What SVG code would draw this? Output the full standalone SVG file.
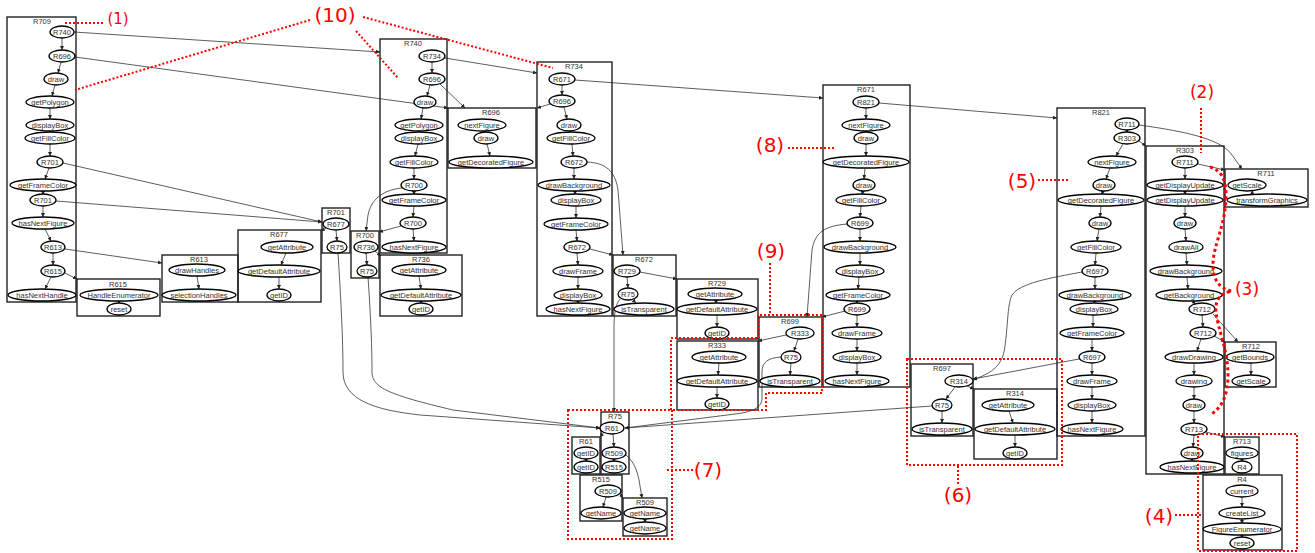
<svg xmlns="http://www.w3.org/2000/svg" width="1315" height="553" viewBox="0 0 1315 553">
<defs>
<marker id="a" viewBox="0 0 6 6" refX="6" refY="3" markerWidth="4" markerHeight="4" orient="auto" markerUnits="userSpaceOnUse"><path d="M0,0 L6,3 L0,6z" fill="#222"/></marker>
<style>
.b{fill:none;stroke:#222;stroke-width:1.4}
.n ellipse{fill:#fff;stroke:#000;stroke-width:1.3}
text{font-family:"Liberation Sans",Arial,sans-serif;font-size:7.5px;fill:#333;text-anchor:middle}
.e line,.e path{fill:none;stroke:#333;stroke-width:0.8;marker-end:url(#a)}
.r{fill:none;stroke:#f00;stroke-width:2;stroke-dasharray:2 2}
.rt{font-family:"DejaVu Sans",sans-serif;fill:#f00;font-size:20px}
</style>
</defs>
<rect width="1315" height="553" fill="#fff"/>
<g id="connectors" class="e">
<line x1="74" y1="32" x2="380" y2="52"/>
<line x1="75" y1="57" x2="448" y2="108"/>
<line x1="63" y1="163" x2="322" y2="222"/>
<line x1="56" y1="201" x2="322" y2="222"/>
<line x1="65" y1="249" x2="162" y2="263"/>
<line x1="65" y1="273" x2="77" y2="279"/>
<line x1="326" y1="228" x2="321" y2="231"/>
<path d="M402,188 C382,190 371,200 368,215 L366,231"/>
<line x1="401" y1="226" x2="379" y2="232"/>
<line x1="375" y1="251" x2="381" y2="256"/>
<path d="M338,253 C341,300 343,340 343,372 C343,400 375,410 420,415 L600,428"/>
<path d="M368,277 C371,320 372,350 372,372 C372,388 390,395 453,410 L600,428"/>
<line x1="445" y1="58" x2="537" y2="73"/>
<line x1="440" y1="84" x2="465" y2="108"/>
<line x1="550" y1="104" x2="537" y2="108"/>
<line x1="575" y1="80" x2="823" y2="98"/>
<path d="M587,162 C605,163 615,170 618,190 L623,255"/>
<line x1="590" y1="249" x2="613" y2="255"/>
<line x1="640" y1="272" x2="677" y2="279"/>
<path d="M620,299 C615,305 614,315 614,330 L614,412"/>
<line x1="786" y1="335" x2="758" y2="341"/>
<path d="M781,357 C768,358 762,362 762,372 L762,398 C762,408 752,412 735,414 L625,428"/>
<path d="M847,224 C825,226 815,232 812,250 L807,317"/>
<line x1="845" y1="311" x2="822" y2="317"/>
<line x1="879" y1="103" x2="1057" y2="118"/>
<path d="M1082,272 C1050,278 1020,283 1012,295 C1007,305 1008,330 1004,352 C1000,370 985,375 973,380"/>
<line x1="1079" y1="359" x2="973" y2="379"/>
<line x1="967" y1="386" x2="974" y2="389"/>
<line x1="932" y1="406" x2="625" y2="428"/>
<path d="M1139,125 C1190,132 1222,140 1232,155 L1242,169"/>
<line x1="1139" y1="141" x2="1146" y2="146"/>
<line x1="1198" y1="164" x2="1225" y2="170"/>
<line x1="1213" y1="314" x2="1238" y2="342"/>
<line x1="1214" y1="336" x2="1225" y2="342"/>
<line x1="1206" y1="432" x2="1225" y2="437"/>
<line x1="604" y1="432" x2="600" y2="437"/>
<path d="M626,455 C634,462 637,470 639,480 L642,498"/>
<line x1="620" y1="494" x2="623" y2="498"/>
<line x1="62" y1="38" x2="62" y2="50"/><line x1="61" y1="62" x2="58" y2="73"/><line x1="55" y1="85" x2="52" y2="96"/><line x1="50" y1="108" x2="50" y2="119"/><line x1="50" y1="130" x2="50" y2="133"/><line x1="50" y1="144" x2="50" y2="156"/><line x1="49" y1="168" x2="45" y2="179"/><line x1="43" y1="190" x2="43" y2="195"/><line x1="43" y1="206" x2="43" y2="217"/><line x1="45" y1="229" x2="51" y2="241"/><line x1="53" y1="253" x2="53" y2="265"/><line x1="51" y1="277" x2="45" y2="289"/>
<line x1="119" y1="300" x2="119" y2="304"/>
<line x1="197" y1="276" x2="199" y2="289"/>
<line x1="286" y1="253" x2="281" y2="265"/><line x1="279" y1="277" x2="279" y2="289"/>
<line x1="336" y1="230" x2="337" y2="241"/>
<line x1="366" y1="253" x2="367" y2="265"/>
<line x1="419" y1="276" x2="421" y2="289"/><line x1="421" y1="300" x2="421" y2="304"/>
<line x1="432" y1="62" x2="432" y2="73"/><line x1="430" y1="85" x2="427" y2="96"/><line x1="423" y1="108" x2="421" y2="119"/><line x1="419" y1="130" x2="419" y2="133"/><line x1="418" y1="144" x2="415" y2="156"/><line x1="414" y1="168" x2="414" y2="179"/><line x1="414" y1="190" x2="414" y2="195"/><line x1="414" y1="206" x2="413" y2="217"/><line x1="413" y1="229" x2="414" y2="241"/>
<line x1="486" y1="133" x2="484" y2="130"/><line x1="487" y1="144" x2="490" y2="156"/>
<line x1="562" y1="85" x2="562" y2="95"/><line x1="564" y1="107" x2="567" y2="119"/><line x1="570" y1="130" x2="570" y2="133"/><line x1="572" y1="144" x2="573" y2="156"/><line x1="574" y1="168" x2="574" y2="179"/><line x1="575" y1="190" x2="575" y2="195"/><line x1="576" y1="206" x2="576" y2="218"/><line x1="576" y1="230" x2="577" y2="241"/><line x1="577" y1="253" x2="578" y2="265"/><line x1="578" y1="277" x2="578" y2="289"/><line x1="578" y1="300" x2="578" y2="304"/>
<line x1="627" y1="277" x2="628" y2="288"/><line x1="632" y1="299" x2="636" y2="303"/>
<line x1="716" y1="299" x2="716" y2="304"/><line x1="717" y1="315" x2="717" y2="327"/>
<line x1="719" y1="363" x2="718" y2="375"/><line x1="717" y1="387" x2="717" y2="398"/>
<line x1="798" y1="339" x2="794" y2="351"/><line x1="791" y1="363" x2="790" y2="375"/>
<line x1="866" y1="108" x2="866" y2="119"/><line x1="866" y1="130" x2="866" y2="133"/><line x1="866" y1="144" x2="866" y2="156"/><line x1="865" y1="168" x2="864" y2="179"/><line x1="863" y1="190" x2="862" y2="195"/><line x1="861" y1="206" x2="860" y2="217"/><line x1="860" y1="229" x2="860" y2="241"/><line x1="860" y1="253" x2="860" y2="265"/><line x1="859" y1="277" x2="858" y2="289"/><line x1="857" y1="300" x2="857" y2="304"/><line x1="857" y1="315" x2="857" y2="327"/><line x1="857" y1="339" x2="857" y2="351"/><line x1="857" y1="363" x2="857" y2="375"/>
<line x1="1127" y1="129" x2="1127" y2="133"/><line x1="1123" y1="144" x2="1116" y2="156"/><line x1="1110" y1="168" x2="1106" y2="179"/><line x1="1103" y1="190" x2="1102" y2="195"/><line x1="1101" y1="206" x2="1100" y2="217"/><line x1="1099" y1="229" x2="1097" y2="241"/><line x1="1096" y1="253" x2="1095" y2="265"/><line x1="1095" y1="277" x2="1095" y2="289"/><line x1="1095" y1="300" x2="1094" y2="304"/><line x1="1093" y1="315" x2="1093" y2="327"/><line x1="1092" y1="339" x2="1092" y2="351"/><line x1="1092" y1="363" x2="1092" y2="375"/><line x1="1092" y1="387" x2="1092" y2="399"/><line x1="1092" y1="411" x2="1092" y2="423"/>
<line x1="1185" y1="168" x2="1185" y2="179"/><line x1="1185" y1="190" x2="1185" y2="195"/><line x1="1185" y1="206" x2="1185" y2="217"/><line x1="1185" y1="229" x2="1186" y2="241"/><line x1="1186" y1="253" x2="1187" y2="265"/><line x1="1187" y1="277" x2="1188" y2="289"/><line x1="1192" y1="301" x2="1196" y2="304"/><line x1="1202" y1="315" x2="1203" y2="327"/><line x1="1201" y1="339" x2="1197" y2="351"/><line x1="1194" y1="363" x2="1194" y2="375"/><line x1="1194" y1="387" x2="1194" y2="399"/><line x1="1194" y1="411" x2="1194" y2="423"/><line x1="1194" y1="435" x2="1193" y2="447"/><line x1="1192" y1="458" x2="1192" y2="462"/>
<line x1="1250" y1="190" x2="1254" y2="195"/>
<line x1="1251" y1="363" x2="1251" y2="375"/>
<line x1="1242" y1="458" x2="1242" y2="462"/>
<line x1="1242" y1="497" x2="1242" y2="507"/><line x1="1242" y1="518" x2="1242" y2="524"/><line x1="1242" y1="534" x2="1242" y2="538"/>
<line x1="955" y1="387" x2="946" y2="399"/><line x1="942" y1="411" x2="942" y2="423"/>
<line x1="1009" y1="411" x2="1013" y2="423"/><line x1="1015" y1="435" x2="1015" y2="447"/>
<line x1="613" y1="434" x2="614" y2="447"/><line x1="614" y1="458" x2="614" y2="462"/>
<line x1="586" y1="458" x2="586" y2="462"/>
<line x1="606" y1="497" x2="603" y2="507"/>
<line x1="645" y1="518" x2="645" y2="523"/>
</g>

<g id="R709" class="n"><rect class="b" x="7" y="17" width="69" height="285"/><text x="42" y="24">R709</text>
<g id="R709-R740"><ellipse cx="62" cy="32" rx="12" ry="6"/><text x="62" y="34.7">R740</text></g>
<g id="R709-R696"><ellipse cx="62" cy="56" rx="13" ry="6"/><text x="62" y="58.7">R696</text></g>
<g id="R709-draw"><ellipse cx="56" cy="79" rx="12" ry="6"/><text x="56" y="81.7">draw</text></g>
<g id="R709-getPolygon"><ellipse cx="50" cy="102" rx="24" ry="6"/><text x="50" y="104.7">getPolygon</text></g>
<g id="R709-displayBox"><ellipse cx="50" cy="125" rx="24" ry="6"/><text x="50" y="127.7">displayBox</text></g>
<g id="R709-getFillColor"><ellipse cx="50" cy="138" rx="25" ry="6"/><text x="50" y="140.7">getFillColor</text></g>
<g id="R709-R701a"><ellipse cx="50" cy="162" rx="13" ry="6"/><text x="50" y="164.7">R701</text></g>
<g id="R709-getFrameColor"><ellipse cx="43" cy="185" rx="33" ry="6"/><text x="43" y="187.7">getFrameColor</text></g>
<g id="R709-R701b"><ellipse cx="43" cy="200" rx="13" ry="6"/><text x="43" y="202.7">R701</text></g>
<g id="R709-hasNextFigure"><ellipse cx="43" cy="223" rx="31" ry="6"/><text x="43" y="225.7">hasNextFigure</text></g>
<g id="R709-R613"><ellipse cx="53" cy="247" rx="12" ry="6"/><text x="53" y="249.7">R613</text></g>
<g id="R709-R615"><ellipse cx="53" cy="271" rx="12" ry="6"/><text x="53" y="273.7">R615</text></g>
<g id="R709-hasNextHandle"><ellipse cx="42" cy="295" rx="34" ry="6"/><text x="42" y="297.7">hasNextHandle</text></g>
</g>

<g id="R615" class="n"><rect class="b" x="77" y="279" width="83" height="37"/><text x="118" y="287">R615</text>
<g id="R615-HandleEnumerator"><ellipse cx="119" cy="295" rx="39" ry="6"/><text x="119" y="297.7">HandleEnumerator</text></g>
<g id="R615-reset"><ellipse cx="119" cy="309" rx="12" ry="6"/><text x="119" y="311.7">reset</text></g>
</g>

<g id="R613" class="n"><rect class="b" x="162" y="255" width="76" height="47"/><text x="199" y="262">R613</text>
<g id="R613-drawHandles"><ellipse cx="197" cy="270" rx="28" ry="6"/><text x="197" y="272.7">drawHandles</text></g>
<g id="R613-selectionHandles"><ellipse cx="199" cy="295" rx="37" ry="6"/><text x="199" y="297.7">selectionHandles</text></g>
</g>

<g id="R677" class="n"><rect class="b" x="238" y="230" width="83" height="72"/><text x="279" y="237">R677</text>
<g id="R677-getAttribute"><ellipse cx="287" cy="247" rx="26" ry="6"/><text x="287" y="249.7">getAttribute</text></g>
<g id="R677-getDefaultAttribute"><ellipse cx="279" cy="271" rx="41" ry="6"/><text x="279" y="273.7">getDefaultAttribute</text></g>
<g id="R677-getID"><ellipse cx="279" cy="295" rx="12" ry="6"/><text x="279" y="297.7">getID</text></g>
</g>

<g id="R701" class="n"><rect class="b" x="322" y="208" width="28" height="45"/><text x="336" y="215">R701</text>
<g id="R701-R677"><ellipse cx="336" cy="224" rx="13" ry="6"/><text x="336" y="226.7">R677</text></g>
<g id="R701-R75"><ellipse cx="337" cy="247" rx="10" ry="6"/><text x="337" y="249.7">R75</text></g>
</g>

<g id="R700" class="n"><rect class="b" x="351" y="231" width="28" height="47"/><text x="365" y="238">R700</text>
<g id="R700-R736"><ellipse cx="366" cy="247" rx="12" ry="6"/><text x="366" y="249.7">R736</text></g>
<g id="R700-R75"><ellipse cx="367" cy="271" rx="10" ry="6"/><text x="367" y="273.7">R75</text></g>
</g>

<g id="R736" class="n"><rect class="b" x="380" y="255" width="82" height="61"/><text x="421" y="262">R736</text>
<g id="R736-getAttribute"><ellipse cx="419" cy="270" rx="27" ry="6"/><text x="419" y="272.7">getAttribute</text></g>
<g id="R736-getDefaultAttribute"><ellipse cx="421" cy="295" rx="40" ry="6"/><text x="421" y="297.7">getDefaultAttribute</text></g>
<g id="R736-getID"><ellipse cx="421" cy="309" rx="12" ry="6"/><text x="421" y="311.7">getID</text></g>
</g>

<g id="R740" class="n"><rect class="b" x="380" y="39" width="67" height="214"/><text x="413" y="46">R740</text>
<g id="R740-R734"><ellipse cx="432" cy="56" rx="13" ry="6"/><text x="432" y="58.7">R734</text></g>
<g id="R740-R696"><ellipse cx="432" cy="79" rx="13" ry="6"/><text x="432" y="81.7">R696</text></g>
<g id="R740-draw"><ellipse cx="425" cy="102" rx="11" ry="6"/><text x="425" y="104.7">draw</text></g>
<g id="R740-getPolygon"><ellipse cx="419" cy="125" rx="24" ry="6"/><text x="419" y="127.7">getPolygon</text></g>
<g id="R740-displayBox"><ellipse cx="419" cy="138" rx="24" ry="6"/><text x="419" y="140.7">displayBox</text></g>
<g id="R740-getFillColor"><ellipse cx="414" cy="162" rx="24" ry="6"/><text x="414" y="164.7">getFillColor</text></g>
<g id="R740-R700a"><ellipse cx="414" cy="185" rx="13" ry="6"/><text x="414" y="187.7">R700</text></g>
<g id="R740-getFrameColor"><ellipse cx="414" cy="200" rx="32" ry="6"/><text x="414" y="202.7">getFrameColor</text></g>
<g id="R740-R700b"><ellipse cx="413" cy="223" rx="13" ry="6"/><text x="413" y="225.7">R700</text></g>
<g id="R740-hasNextFigure"><ellipse cx="414" cy="247" rx="32" ry="6"/><text x="414" y="249.7">hasNextFigure</text></g>
</g>

<g id="R696" class="n"><rect class="b" x="448" y="108" width="88" height="60"/><text x="491" y="115">R696</text>
<g id="R696-nextFigure"><ellipse cx="482" cy="125" rx="24" ry="6"/><text x="482" y="127.7">nextFigure</text></g>
<g id="R696-draw"><ellipse cx="486" cy="138" rx="12" ry="6"/><text x="486" y="140.7">draw</text></g>
<g id="R696-getDecoratedFigure"><ellipse cx="491" cy="162" rx="42" ry="6"/><text x="491" y="164.7">getDecoratedFigure</text></g>
</g>

<g id="R734" class="n"><rect class="b" x="537" y="62" width="75" height="254"/><text x="574" y="69">R734</text>
<g id="R734-R671"><ellipse cx="562" cy="79" rx="13" ry="6"/><text x="562" y="81.7">R671</text></g>
<g id="R734-R696"><ellipse cx="562" cy="101" rx="13" ry="6"/><text x="562" y="103.7">R696</text></g>
<g id="R734-draw"><ellipse cx="569" cy="125" rx="12" ry="6"/><text x="569" y="127.7">draw</text></g>
<g id="R734-getFillColor"><ellipse cx="571" cy="138" rx="24" ry="6"/><text x="571" y="140.7">getFillColor</text></g>
<g id="R734-R672a"><ellipse cx="574" cy="162" rx="13" ry="6"/><text x="574" y="164.7">R672</text></g>
<g id="R734-drawBackground"><ellipse cx="574" cy="185" rx="36" ry="6"/><text x="574" y="187.7">drawBackground</text></g>
<g id="R734-displayBoxA"><ellipse cx="576" cy="200" rx="25" ry="6"/><text x="576" y="202.7">displayBox</text></g>
<g id="R734-getFrameColor"><ellipse cx="576" cy="224" rx="32" ry="6"/><text x="576" y="226.7">getFrameColor</text></g>
<g id="R734-R672b"><ellipse cx="577" cy="247" rx="13" ry="6"/><text x="577" y="249.7">R672</text></g>
<g id="R734-drawFrame"><ellipse cx="578" cy="271" rx="25" ry="6"/><text x="578" y="273.7">drawFrame</text></g>
<g id="R734-displayBoxB"><ellipse cx="578" cy="295" rx="24" ry="6"/><text x="578" y="297.7">displayBox</text></g>
<g id="R734-hasNextFigure"><ellipse cx="578" cy="309" rx="32" ry="6"/><text x="578" y="311.7">hasNextFigure</text></g>
</g>

<g id="R672" class="n"><rect class="b" x="613" y="255" width="63" height="61"/><text x="644" y="262">R672</text>
<g id="R672-R729"><ellipse cx="627" cy="271" rx="13" ry="6"/><text x="627" y="273.7">R729</text></g>
<g id="R672-R75"><ellipse cx="628" cy="294" rx="10" ry="6"/><text x="628" y="296.7">R75</text></g>
<g id="R672-isTransparent"><ellipse cx="644" cy="309" rx="30" ry="6"/><text x="644" y="311.7">isTransparent</text></g>
</g>

<g id="R729" class="n"><rect class="b" x="677" y="279" width="81" height="60"/><text x="717" y="286">R729</text>
<g id="R729-getAttribute"><ellipse cx="715" cy="294" rx="27" ry="6"/><text x="715" y="296.7">getAttribute</text></g>
<g id="R729-getDefaultAttribute"><ellipse cx="717" cy="309" rx="40" ry="6"/><text x="717" y="311.7">getDefaultAttribute</text></g>
<g id="R729-getID"><ellipse cx="717" cy="333" rx="12" ry="6"/><text x="717" y="335.7">getID</text></g>
</g>

<g id="R333" class="n"><rect class="b" x="677" y="341" width="81" height="69"/><text x="717" y="348">R333</text>
<g id="R333-getAttribute"><ellipse cx="719" cy="357" rx="27" ry="6"/><text x="719" y="359.7">getAttribute</text></g>
<g id="R333-getDefaultAttribute"><ellipse cx="717" cy="381" rx="40" ry="6"/><text x="717" y="383.7">getDefaultAttribute</text></g>
<g id="R333-getID"><ellipse cx="717" cy="404" rx="12" ry="6"/><text x="717" y="406.7">getID</text></g>
</g>

<g id="R699" class="n"><rect class="b" x="759" y="317" width="63" height="70"/><text x="790" y="324">R699</text>
<g id="R699-R333"><ellipse cx="800" cy="333" rx="14" ry="6"/><text x="800" y="335.7">R333</text></g>
<g id="R699-R75"><ellipse cx="791" cy="357" rx="10" ry="6"/><text x="791" y="359.7">R75</text></g>
<g id="R699-isTransparent"><ellipse cx="790" cy="381" rx="30" ry="6"/><text x="790" y="383.7">isTransparent</text></g>
</g>

<g id="R671" class="n"><rect class="b" x="823" y="85" width="87" height="302"/><text x="866" y="92">R671</text>
<g id="R671-R821"><ellipse cx="866" cy="102" rx="13" ry="6"/><text x="866" y="104.7">R821</text></g>
<g id="R671-nextFigure"><ellipse cx="866" cy="125" rx="24" ry="6"/><text x="866" y="127.7">nextFigure</text></g>
<g id="R671-drawA"><ellipse cx="866" cy="138" rx="12" ry="6"/><text x="866" y="140.7">draw</text></g>
<g id="R671-getDecoratedFigure"><ellipse cx="866" cy="162" rx="43" ry="6"/><text x="866" y="164.7">getDecoratedFigure</text></g>
<g id="R671-drawB"><ellipse cx="864" cy="185" rx="11" ry="6"/><text x="864" y="187.7">draw</text></g>
<g id="R671-getFillColor"><ellipse cx="861" cy="200" rx="25" ry="6"/><text x="861" y="202.7">getFillColor</text></g>
<g id="R671-R699a"><ellipse cx="860" cy="223" rx="13" ry="6"/><text x="860" y="225.7">R699</text></g>
<g id="R671-drawBackground"><ellipse cx="860" cy="247" rx="36" ry="6"/><text x="860" y="249.7">drawBackground</text></g>
<g id="R671-displayBoxA"><ellipse cx="860" cy="271" rx="24" ry="6"/><text x="860" y="273.7">displayBox</text></g>
<g id="R671-getFrameColor"><ellipse cx="858" cy="295" rx="32" ry="6"/><text x="858" y="297.7">getFrameColor</text></g>
<g id="R671-R699b"><ellipse cx="857" cy="309" rx="13" ry="6"/><text x="857" y="311.7">R699</text></g>
<g id="R671-drawFrame"><ellipse cx="857" cy="333" rx="25" ry="6"/><text x="857" y="335.7">drawFrame</text></g>
<g id="R671-displayBoxB"><ellipse cx="857" cy="357" rx="24" ry="6"/><text x="857" y="359.7">displayBox</text></g>
<g id="R671-hasNextFigure"><ellipse cx="857" cy="381" rx="32" ry="6"/><text x="857" y="383.7">hasNextFigure</text></g>
</g>

<g id="R821" class="n"><rect class="b" x="1057" y="108" width="88" height="328"/><text x="1101" y="115">R821</text>
<g id="R821-R711"><ellipse cx="1127" cy="124" rx="12" ry="6"/><text x="1127" y="126.7">R711</text></g>
<g id="R821-R303"><ellipse cx="1127" cy="138" rx="13" ry="6"/><text x="1127" y="140.7">R303</text></g>
<g id="R821-nextFigure"><ellipse cx="1112" cy="162" rx="24" ry="6"/><text x="1112" y="164.7">nextFigure</text></g>
<g id="R821-drawA"><ellipse cx="1104" cy="185" rx="11" ry="6"/><text x="1104" y="187.7">draw</text></g>
<g id="R821-getDecoratedFigure"><ellipse cx="1101" cy="200" rx="43" ry="6"/><text x="1101" y="202.7">getDecoratedFigure</text></g>
<g id="R821-drawB"><ellipse cx="1100" cy="223" rx="11" ry="6"/><text x="1100" y="225.7">draw</text></g>
<g id="R821-getFillColor"><ellipse cx="1096" cy="247" rx="25" ry="6"/><text x="1096" y="249.7">getFillColor</text></g>
<g id="R821-R697a"><ellipse cx="1095" cy="271" rx="13" ry="6"/><text x="1095" y="273.7">R697</text></g>
<g id="R821-drawBackground"><ellipse cx="1095" cy="295" rx="36" ry="6"/><text x="1095" y="297.7">drawBackground</text></g>
<g id="R821-displayBoxA"><ellipse cx="1094" cy="309" rx="24" ry="6"/><text x="1094" y="311.7">displayBox</text></g>
<g id="R821-getFrameColor"><ellipse cx="1092" cy="333" rx="32" ry="6"/><text x="1092" y="335.7">getFrameColor</text></g>
<g id="R821-R697b"><ellipse cx="1092" cy="357" rx="13" ry="6"/><text x="1092" y="359.7">R697</text></g>
<g id="R821-drawFrame"><ellipse cx="1092" cy="381" rx="25" ry="6"/><text x="1092" y="383.7">drawFrame</text></g>
<g id="R821-displayBoxB"><ellipse cx="1092" cy="405" rx="24" ry="6"/><text x="1092" y="407.7">displayBox</text></g>
<g id="R821-hasNextFigure"><ellipse cx="1092" cy="429" rx="31" ry="6"/><text x="1092" y="431.7">hasNextFigure</text></g>
</g>

<g id="R303" class="n"><rect class="b" x="1146" y="146" width="78" height="328"/><text x="1185" y="153">R303</text>
<g id="R303-R711"><ellipse cx="1185" cy="162" rx="13" ry="6"/><text x="1185" y="164.7">R711</text></g>
<g id="R303-getDisplayUpdateA"><ellipse cx="1185" cy="185" rx="38" ry="6"/><text x="1185" y="187.7">getDisplayUpdate</text></g>
<g id="R303-getDisplayUpdateB"><ellipse cx="1185" cy="200" rx="38" ry="6"/><text x="1185" y="202.7">getDisplayUpdate</text></g>
<g id="R303-drawA"><ellipse cx="1185" cy="223" rx="11" ry="6"/><text x="1185" y="225.7">draw</text></g>
<g id="R303-drawAll"><ellipse cx="1186" cy="247" rx="17" ry="6"/><text x="1186" y="249.7">drawAll</text></g>
<g id="R303-drawBackground"><ellipse cx="1186" cy="271" rx="36" ry="6"/><text x="1186" y="273.7">drawBackground</text></g>
<g id="R303-getBackground"><ellipse cx="1189" cy="295" rx="33" ry="6"/><text x="1189" y="297.7">getBackground</text></g>
<g id="R303-R712a"><ellipse cx="1202" cy="309" rx="13" ry="6"/><text x="1202" y="311.7">R712</text></g>
<g id="R303-R712b"><ellipse cx="1203" cy="333" rx="13" ry="6"/><text x="1203" y="335.7">R712</text></g>
<g id="R303-drawDrawing"><ellipse cx="1194" cy="357" rx="29" ry="6"/><text x="1194" y="359.7">drawDrawing</text></g>
<g id="R303-drawing"><ellipse cx="1194" cy="381" rx="18" ry="6"/><text x="1194" y="383.7">drawing</text></g>
<g id="R303-drawB"><ellipse cx="1194" cy="405" rx="11" ry="6"/><text x="1194" y="407.7">draw</text></g>
<g id="R303-R713"><ellipse cx="1194" cy="429" rx="13" ry="6"/><text x="1194" y="431.7">R713</text></g>
<g id="R303-drawC"><ellipse cx="1192" cy="453" rx="11" ry="6"/><text x="1192" y="455.7">draw</text></g>
<g id="R303-hasNextFigure"><ellipse cx="1192" cy="467" rx="32" ry="6"/><text x="1192" y="469.7">hasNextFigure</text></g>
</g>

<g id="R711" class="n"><rect class="b" x="1225" y="169" width="83" height="38"/><text x="1266" y="176">R711</text>
<g id="R711-getScale"><ellipse cx="1247" cy="185" rx="19" ry="6"/><text x="1247" y="187.7">getScale</text></g>
<g id="R711-transformGraphics"><ellipse cx="1267" cy="200" rx="40" ry="6"/><text x="1267" y="202.7">transformGraphics</text></g>
</g>

<g id="R712" class="n"><rect class="b" x="1225" y="342" width="51" height="45"/><text x="1251" y="349">R712</text>
<g id="R712-getBounds"><ellipse cx="1250" cy="357" rx="24" ry="6"/><text x="1250" y="359.7">getBounds</text></g>
<g id="R712-getScale"><ellipse cx="1251" cy="381" rx="19" ry="6"/><text x="1251" y="383.7">getScale</text></g>
</g>

<g id="R713" class="n"><rect class="b" x="1225" y="437" width="34" height="37"/><text x="1242" y="444">R713</text>
<g id="R713-figures"><ellipse cx="1242" cy="453" rx="16" ry="6"/><text x="1242" y="455.7">figures</text></g>
<g id="R713-R4"><ellipse cx="1242" cy="467" rx="10" ry="6"/><text x="1242" y="469.7">R4</text></g>
</g>

<g id="R4" class="n"><rect class="b" x="1203" y="475" width="79" height="75"/><text x="1242" y="482">R4</text>
<g id="R4-current"><ellipse cx="1242" cy="491" rx="16" ry="6"/><text x="1242" y="493.7">current</text></g>
<g id="R4-createList"><ellipse cx="1242" cy="513" rx="23" ry="6"/><text x="1242" y="515.7">createList</text></g>
<g id="R4-FigureEnumerator"><ellipse cx="1242" cy="529" rx="39" ry="6"/><text x="1242" y="531.7">FigureEnumerator</text></g>
<g id="R4-reset"><ellipse cx="1242" cy="543" rx="12" ry="6"/><text x="1242" y="545.7">reset</text></g>
</g>

<g id="R697" class="n"><rect class="b" x="911" y="364" width="62" height="72"/><text x="942" y="371">R697</text>
<g id="R697-R314"><ellipse cx="959" cy="381" rx="14" ry="6"/><text x="959" y="383.7">R314</text></g>
<g id="R697-R75"><ellipse cx="942" cy="405" rx="10" ry="6"/><text x="942" y="407.7">R75</text></g>
<g id="R697-isTransparent"><ellipse cx="942" cy="429" rx="30" ry="6"/><text x="942" y="431.7">isTransparent</text></g>
</g>

<g id="R314" class="n"><rect class="b" x="974" y="389" width="83" height="70"/><text x="1015" y="396">R314</text>
<g id="R314-getAttribute"><ellipse cx="1008" cy="405" rx="26" ry="6"/><text x="1008" y="407.7">getAttribute</text></g>
<g id="R314-getDefaultAttribute"><ellipse cx="1015" cy="429" rx="40" ry="6"/><text x="1015" y="431.7">getDefaultAttribute</text></g>
<g id="R314-getID"><ellipse cx="1015" cy="453" rx="12" ry="6"/><text x="1015" y="455.7">getID</text></g>
</g>

<g id="R75" class="n"><rect class="b" x="601" y="412" width="28" height="62"/><text x="615" y="419">R75</text>
<g id="R75-R61"><ellipse cx="612" cy="428" rx="12" ry="6"/><text x="612" y="430.7">R61</text></g>
<g id="R75-R509"><ellipse cx="614" cy="453" rx="12" ry="6"/><text x="614" y="455.7">R509</text></g>
<g id="R75-R515"><ellipse cx="614" cy="467" rx="12" ry="6"/><text x="614" y="469.7">R515</text></g>
</g>

<g id="R61" class="n"><rect class="b" x="572" y="437" width="28" height="37"/><text x="586" y="444">R61</text>
<g id="R61-getIDa"><ellipse cx="586" cy="453" rx="12" ry="6"/><text x="586" y="455.7">getID</text></g>
<g id="R61-getIDb"><ellipse cx="586" cy="467" rx="12" ry="6"/><text x="586" y="469.7">getID</text></g>
</g>

<g id="R515" class="n"><rect class="b" x="580" y="475" width="42" height="46"/><text x="601" y="482">R515</text>
<g id="R515-R509"><ellipse cx="608" cy="491" rx="13" ry="6"/><text x="608" y="493.7">R509</text></g>
<g id="R515-getName"><ellipse cx="601" cy="513" rx="20" ry="6"/><text x="601" y="515.7">getName</text></g>
</g>

<g id="R509" class="n"><rect class="b" x="623" y="498" width="44" height="38"/><text x="645" y="505">R509</text>
<g id="R509-getNameA"><ellipse cx="645" cy="513" rx="21" ry="6"/><text x="645" y="515.7">getName</text></g>
<g id="R509-getNameB"><ellipse cx="645" cy="528" rx="21" ry="6"/><text x="645" y="530.7">getName</text></g>
</g>

<g id="annotations">
<line class="r" x1="65" y1="23" x2="103" y2="23"/>
<text class="rt" x="118" y="24" style="font-size:15px">(1)</text>
<line class="r" x1="310" y1="20" x2="75" y2="90"/>
<line class="r" x1="356" y1="31" x2="398" y2="78"/>
<line class="r" x1="363" y1="17" x2="553" y2="68"/>
<text class="rt" x="335" y="22">(10)</text>
<line class="r" x1="788" y1="148" x2="836" y2="148"/>
<text class="rt" x="770" y="152">(8)</text>
<line class="r" x1="1038" y1="180" x2="1068" y2="180"/>
<text class="rt" x="1022" y="188">(5)</text>
<line class="r" x1="1201" y1="108" x2="1201" y2="153"/>
<text class="rt" x="1202" y="98" style="font-size:17px">(2)</text>
<path class="r" style="stroke-width:3;stroke-dasharray:3 3" d="M1210,167 C1220,170 1226,178 1226,195 C1226,225 1213,245 1213,265 C1213,282 1222,290 1232,291 C1220,293 1215,300 1216,312 C1218,330 1228,350 1228,375 C1228,395 1222,408 1210,415"/>
<text class="rt" x="1247" y="295" style="font-size:17px">(3)</text>
<line class="r" x1="770" y1="263" x2="770" y2="315"/>
<text class="rt" x="771" y="258">(9)</text>
<polygon class="r" points="671,338 758,338 758,315 822,315 822,393 766,393 766,410 671,410"/>
<rect class="r" x="568" y="410" width="104" height="129"/>
<line class="r" x1="667" y1="470" x2="695" y2="470"/>
<text class="rt" x="708" y="477">(7)</text>
<rect class="r" x="907" y="359" width="155" height="106"/>
<line class="r" x1="958" y1="466" x2="958" y2="484"/>
<text class="rt" x="958" y="502">(6)</text>
<rect class="r" x="1198" y="434" width="99" height="117"/>
<line class="r" x1="1175" y1="515" x2="1202" y2="515"/>
<text class="rt" x="1159" y="523">(4)</text>
</g>
</svg>
